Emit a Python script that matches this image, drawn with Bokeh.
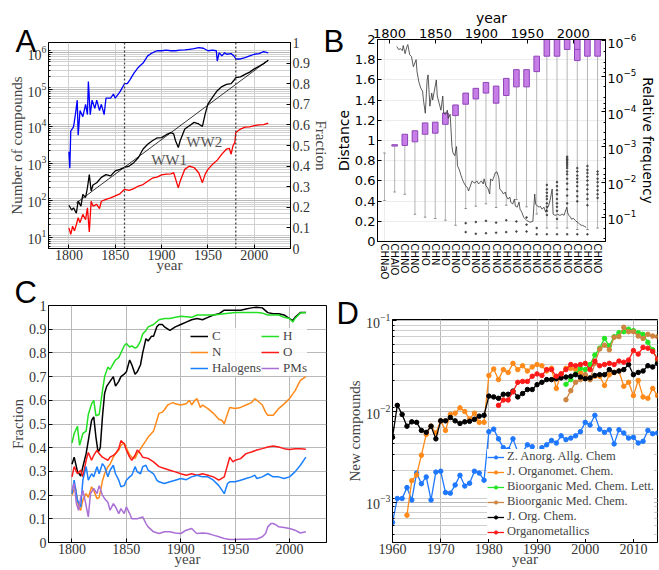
from bokeh.plotting import figure
from bokeh.models import (Range1d, LinearAxis, LogAxis, LogScale, LinearScale, Span, Legend, LegendItem,
                          NumeralTickFormatter, FixedTicker, SingleIntervalTicker, Grid, GridBox)
from bokeh.embed import file_html
from bokeh.resources import INLINE
from bokeh.core.properties import value

SERIF = "Liberation Serif"
SANS = "DejaVu Sans"
LETTER = "Liberation Sans"

# ---------------- Panel A data ----------------
a_black_years = [1800, 1803, 1805, 1808, 1810, 1813, 1815, 1818, 1820, 1822, 1824, 1826, 1830, 1835,
                 1840, 1845, 1850, 1855, 1860, 1865, 1870, 1875, 1880, 1885, 1890, 1895, 1900, 1905,
                 1910, 1913, 1915, 1918, 1920, 1925, 1930, 1935, 1940, 1944, 1947, 1950, 1955, 1960,
                 1965, 1970, 1975, 1978, 1980, 1985, 1990, 1995, 2000, 2005, 2010, 2015]
a_black_vals = [74, 55, 63, 45, 96, 70, 145, 120, 220, 500, 180, 260, 300, 420,
                500, 460, 630, 690, 780, 850, 1050, 1450, 2450, 3300, 4100, 4900, 5000, 6000,
                6800, 6300, 4100, 2700, 4100, 8500, 10500, 12900, 11700, 10000, 22000, 41000, 62000, 93000,
                120000, 138000, 145000, 178000, 210000, 219000, 257000, 295000, 363000, 427000, 501000, 617000]
a_red_years = [1800, 1802, 1804, 1806, 1808, 1810, 1812, 1815, 1818, 1820, 1822, 1824, 1826, 1830, 1833,
               1835, 1840, 1845, 1850, 1855, 1860, 1865, 1870, 1875, 1880, 1885, 1890, 1895, 1900, 1905,
               1910, 1913, 1918, 1920, 1925, 1930, 1935, 1940, 1944, 1947, 1950, 1955, 1960, 1965, 1970,
               1973, 1975, 1977, 1979, 1980, 1985, 1990, 1995, 2000, 2005, 2010, 2015]
a_red_vals = [18, 12, 20, 15, 22, 34, 25, 42, 30, 63, 14, 95, 70, 78, 60,
              95, 107, 117, 132, 151, 200, 186, 209, 245, 269, 331, 398, 427, 490, 513,
              525, 562, 219, 331, 692, 851, 776, 562, 302, 513, 692, 955, 1230, 1780, 2450,
              2570, 1780, 3020, 3720, 6900, 8500, 9550, 9770, 10500, 11000, 11200, 12300]
a_blue_years = [1800, 1801, 1802, 1805, 1807, 1809, 1810, 1812, 1815, 1818, 1820, 1821, 1823, 1825, 1828,
                1830, 1833, 1835, 1838, 1840, 1845, 1848, 1850, 1855, 1860, 1863, 1866, 1870, 1875, 1880,
                1885, 1890, 1895, 1900, 1905, 1910, 1915, 1920, 1925, 1930, 1935, 1940, 1945, 1950, 1955,
                1959, 1960, 1962, 1965, 1968, 1970, 1975, 1978, 1980, 1985, 1990, 1995, 2000, 2005, 2010, 2015]
a_blue_frac = [0.47, 0.39, 0.57, 0.59, 0.65, 0.72, 0.55, 0.67, 0.64, 0.70, 0.65, 0.81, 0.65, 0.72, 0.68,
               0.72, 0.67, 0.70, 0.65, 0.73, 0.73, 0.75, 0.73, 0.76, 0.80, 0.80, 0.82, 0.85, 0.88, 0.90,
               0.935, 0.95, 0.96, 0.96, 0.963, 0.96, 0.96, 0.963, 0.964, 0.967, 0.97, 0.975, 0.972, 0.96, 0.963,
               0.96, 0.91, 0.95, 0.935, 0.95, 0.943, 0.946, 0.935, 0.92, 0.92, 0.927, 0.935, 0.943, 0.946, 0.956, 0.95]
a_fit_years = [1808, 2015]
a_fit_vals = [85, 620000]
a_wars = ["WW1", "WW2"]
a_war_x = [1908, 1946]
a_war_y = [1250, 3700]
a_marks = [1860, 1980]

# ---------------- Panel B data ----------------
b_cats = ["CHNaO", "CHAlO", "CHNO", "CHNO", "CHO", "CHN", "CHO", "CHNO", "CHO", "CHNO", "CHNO",
          "CHNO", "CHNO", "CHNO", "CHNO", "CHNO", "CHNO", "CHNO", "CHNO", "CHNO", "CHNO", "CHNO"]
b_box_idx = [1, 2, 3, 4, 5, 6, 7, 8, 9, 10, 11, 12, 13, 14, 15, 16, 17, 18, 19, 20, 21]
b_box_low = [8.7e-4, 4.4e-4, 3.5e-4, 2.1e-4, 2.0e-4, 1.1e-4, 6.5e-5, 3.0e-5, 2.2e-5, 1.5e-5, 1.9e-5,
             1.15e-5, 6.5e-6, 6.5e-6, 2.7e-6, 3e-7, 3e-7, 3e-7, 3e-7, 3e-7, 3e-7]
b_box_high = [9.5e-4, 9.1e-4, 7.2e-4, 4.4e-4, 4.1e-4, 2.3e-4, 1.3e-4, 6.2e-5, 4.4e-5, 3.0e-5, 5.8e-5,
              3.5e-5, 2.0e-5, 2.0e-5, 7.4e-6, 2.7e-6, 2.7e-6, 1.74e-6, 3.6e-6, 2.7e-6, 2.7e-6]
b_median_idx = [19]
b_median_val = [1.74e-6]
b_whisk_top = [1.5e-3, 9.5e-4, 9.1e-4, 7.2e-4, 4.4e-4, 4.1e-4, 2.3e-4, 1.3e-4, 6.2e-5, 4.4e-5, 3.0e-5, 5.8e-5,
               3.5e-5, 2.0e-5, 2.0e-5, 7.4e-6, 2.7e-6, 2.7e-6, 1.74e-6, 3.6e-6, 2.7e-6, 2.7e-6]
b_whisk_end = [3.3e-2, 1.9e-2, 2.2e-2, 8.1e-2, 9.8e-2, 0.107, 0.12, 0.166, 5.6e-2, 4.8e-2, 4.1e-2, 5.2e-2,
               4.5e-2, 3.1e-2, 5.0e-2, 8.0e-2, 0.2, 0.2, 0.2, 0.22, 0.22, 0.2]
b_flier_idx = [8, 8, 9, 9, 10, 10, 11, 11, 12, 12, 13, 13, 14, 14, 14, 15, 15,
               16, 16, 16, 16, 16, 16, 16, 16, 16, 16,
               17, 17, 17, 17, 17, 17, 17, 17, 17, 17,
               18, 18, 18, 18, 18, 18, 18, 18, 18, 18, 18, 18, 18, 18, 18, 18,
               19, 19, 19, 19, 19, 19, 19, 19, 19, 19,
               20, 20, 20, 20, 20, 20, 20, 20, 20, 20, 20,
               21, 21, 21, 21, 21, 21, 21, 21]
b_flier_val = [0.145, 0.26, 0.135, 0.29, 0.125, 0.28, 0.14, 0.27, 0.12, 0.26, 0.13, 0.25, 0.1, 0.16, 0.25, 0.2, 0.3,
               0.012, 0.016, 0.02, 0.025, 0.03, 0.04, 0.05, 0.065, 0.085, 0.3,
               0.01, 0.013, 0.017, 0.022, 0.03, 0.04, 0.05, 0.065, 0.11, 0.3,
               0.0019, 0.0021, 0.0023, 0.0025, 0.0028, 0.0031, 0.0035, 0.004, 0.005, 0.006, 0.008, 0.011, 0.016, 0.024, 0.04, 0.3,
               0.004, 0.005, 0.0065, 0.008, 0.01, 0.013, 0.018, 0.025, 0.035, 0.3,
               0.0035, 0.0045, 0.0055, 0.007, 0.009, 0.012, 0.016, 0.022, 0.03, 0.045, 0.3,
               0.005, 0.006, 0.008, 0.01, 0.013, 0.017, 0.022, 0.028]
b_line_years = [1808, 1810, 1812, 1814, 1815, 1817, 1819, 1820, 1822, 1824, 1826, 1829, 1830, 1832, 1834,
                1836, 1837, 1839, 1841, 1842, 1844, 1846, 1847, 1849, 1851, 1852, 1854, 1856, 1858, 1859,
                1861, 1863, 1864, 1866, 1868, 1869, 1871, 1873, 1874, 1876, 1878, 1880, 1881, 1883, 1885,
                1886, 1888, 1890, 1892, 1893, 1895, 1897, 1898, 1900, 1902, 1903, 1905, 1907, 1909, 1910,
                1912, 1914, 1915, 1917, 1919, 1920, 1922, 1924, 1926, 1927, 1929, 1931, 1932, 1934, 1936,
                1937, 1939, 1941, 1942, 1944, 1946, 1948, 1949, 1951, 1953, 1956, 1958, 1959, 1961, 1963,
                1964, 1966, 1968, 1970, 1971, 1973, 1975, 1977, 1978, 1980, 1981, 1983, 1985, 1986, 1988,
                1990, 1991, 1993, 1994, 1995, 1997, 1998, 2000, 2002, 2003, 2005, 2007, 2009, 2010, 2012, 2014]
b_line_dist = [1.93, 1.90, 1.91, 1.89, 1.94, 1.86, 1.93, 1.95, 1.85, 1.83, 1.73, 1.80, 1.68, 1.58, 1.52,
               1.49, 1.40, 1.27, 1.60, 1.65, 1.34, 1.47, 1.40, 1.50, 1.60, 1.44, 1.37, 1.30, 1.44, 1.27,
               1.26, 1.30, 1.22, 1.26, 0.94, 0.88, 0.85, 0.94, 0.75, 0.71, 0.65, 0.60, 0.58, 0.55, 0.53,
               0.50, 0.55, 0.60, 0.58, 0.58, 0.60, 0.57, 0.58, 0.60, 0.57, 0.62, 0.55, 0.53, 0.47, 0.62,
               0.60, 0.65, 0.68, 0.69, 0.63, 0.52, 0.50, 0.47, 0.49, 0.45, 0.42, 0.44, 0.39, 0.37, 0.42,
               0.35, 0.34, 0.39, 0.32, 0.29, 0.24, 0.22, 0.21, 0.20, 0.19, 0.20, 0.47, 0.37, 0.35, 0.34,
               0.35, 0.32, 0.34, 0.29, 0.32, 0.35, 0.42, 0.52, 0.27, 0.26, 0.26, 0.27, 0.26, 0.26, 0.27,
               0.26, 0.29, 0.34, 0.28, 0.26, 0.24, 0.22, 0.23, 0.21, 0.20, 0.19, 0.17, 0.16, 0.16, 0.15, 0.14]

# ---------------- Panel C data ----------------
c_years_c = [1800, 1802, 1805, 1808, 1810, 1813, 1815, 1818, 1820, 1822, 1824, 1826, 1828, 1830, 1832,
             1835, 1838, 1840, 1843, 1845, 1848, 1850, 1853, 1855, 1858, 1860, 1863, 1865, 1868, 1870,
             1873, 1875, 1878, 1880, 1883, 1885, 1890, 1895, 1900, 1905, 1910, 1915, 1920, 1925, 1930,
             1935, 1940, 1945, 1950, 1955, 1960, 1965, 1970, 1975, 1980, 1985, 1990, 1995, 2000, 2003,
             2005, 2010, 2015]
c_C = [0.33, 0.36, 0.30, 0.28, 0.32, 0.375, 0.43, 0.515, 0.53, 0.445, 0.38, 0.40, 0.53, 0.63, 0.66,
       0.68, 0.70, 0.66, 0.68, 0.70, 0.71, 0.72, 0.77, 0.75, 0.71, 0.72, 0.75, 0.80, 0.86, 0.85,
       0.87, 0.87, 0.91, 0.92, 0.92, 0.91, 0.895, 0.91, 0.92, 0.93, 0.94, 0.945, 0.94, 0.95, 0.96,
       0.965, 0.98, 0.98, 0.98, 0.98, 0.985, 0.99, 0.993, 0.99, 0.97, 0.965, 0.965, 0.96, 0.945, 0.937,
       0.95, 0.97, 0.97]
c_years_h = [1800, 1802, 1805, 1807, 1810, 1813, 1815, 1818, 1820, 1822, 1825, 1828, 1830, 1833, 1835,
             1838, 1840, 1843, 1845, 1848, 1850, 1853, 1855, 1858, 1860, 1863, 1865, 1868, 1870, 1875,
             1880, 1885, 1890, 1895, 1900, 1910, 1915, 1920, 1930, 1940, 1950, 1960, 1970, 1975, 1980,
             1990, 1995, 2000, 2003, 2005, 2010, 2015]
c_H = [0.42, 0.46, 0.49, 0.41, 0.46, 0.47, 0.54, 0.585, 0.60, 0.535, 0.54, 0.64, 0.70, 0.74, 0.73,
       0.755, 0.77, 0.78, 0.80, 0.83, 0.84, 0.825, 0.83, 0.82, 0.825, 0.85, 0.88, 0.895, 0.91, 0.92,
       0.94, 0.945, 0.945, 0.95, 0.955, 0.95, 0.96, 0.96, 0.96, 0.965, 0.97, 0.97, 0.97, 0.968, 0.96,
       0.96, 0.95, 0.945, 0.93, 0.945, 0.968, 0.97]
c_years_n = [1800, 1803, 1806, 1808, 1810, 1813, 1815, 1818, 1820, 1823, 1825, 1828, 1830, 1833, 1835,
             1838, 1840, 1843, 1845, 1848, 1850, 1853, 1855, 1858, 1860, 1863, 1865, 1868, 1870, 1873,
             1875, 1878, 1880, 1883, 1885, 1888, 1890, 1893, 1895, 1900, 1905, 1908, 1910, 1913, 1915,
             1918, 1920, 1925, 1930, 1935, 1938, 1940, 1942, 1945, 1950, 1955, 1960, 1965, 1968, 1970,
             1975, 1978, 1980, 1985, 1990, 1995, 2000, 2005, 2010, 2015]
c_N = [0.20, 0.235, 0.15, 0.136, 0.18, 0.206, 0.19, 0.235, 0.22, 0.185, 0.19, 0.26, 0.29, 0.32, 0.33,
       0.36, 0.375, 0.39, 0.41, 0.42, 0.40, 0.37, 0.36, 0.355, 0.375, 0.395, 0.41, 0.43, 0.445, 0.46,
       0.47, 0.515, 0.545, 0.55, 0.56, 0.58, 0.585, 0.59, 0.585, 0.58, 0.585, 0.60, 0.58, 0.60, 0.607,
       0.57, 0.58, 0.565, 0.545, 0.52, 0.515, 0.50, 0.53, 0.57, 0.565, 0.57, 0.58, 0.59, 0.607, 0.60,
       0.58, 0.55, 0.537, 0.537, 0.565, 0.585, 0.607, 0.64, 0.684, 0.70]
c_years_o = [1800, 1802, 1805, 1808, 1810, 1813, 1815, 1818, 1820, 1823, 1825, 1828, 1830, 1833, 1835,
             1838, 1840, 1843, 1845, 1848, 1850, 1853, 1855, 1858, 1860, 1863, 1865, 1870, 1875, 1880,
             1885, 1890, 1895, 1900, 1905, 1910, 1915, 1920, 1925, 1930, 1935, 1940, 1943, 1945, 1948,
             1950, 1955, 1960, 1965, 1970, 1975, 1980, 1985, 1990, 1995, 2000, 2005, 2010, 2015]
c_O = [0.277, 0.32, 0.29, 0.305, 0.277, 0.347, 0.38, 0.347, 0.368, 0.39, 0.375, 0.36, 0.355, 0.347, 0.36,
       0.368, 0.375, 0.396, 0.43, 0.417, 0.39, 0.36, 0.347, 0.368, 0.39, 0.375, 0.36, 0.355, 0.34, 0.32,
       0.312, 0.305, 0.298, 0.29, 0.284, 0.29, 0.284, 0.29, 0.284, 0.277, 0.263, 0.277, 0.326, 0.36, 0.34,
       0.347, 0.354, 0.375, 0.382, 0.39, 0.396, 0.403, 0.407, 0.403, 0.396, 0.392, 0.396, 0.396, 0.393]
c_years_x = [1800, 1802, 1805, 1808, 1810, 1813, 1815, 1818, 1820, 1823, 1825, 1828, 1830, 1833, 1835,
             1838, 1840, 1843, 1845, 1848, 1850, 1853, 1855, 1858, 1860, 1863, 1865, 1868, 1870, 1875,
             1878, 1880, 1885, 1890, 1895, 1900, 1905, 1910, 1915, 1920, 1925, 1930, 1935, 1938, 1940,
             1943, 1945, 1950, 1955, 1960, 1965, 1968, 1970, 1975, 1980, 1985, 1990, 1995, 2000, 2005,
             2010, 2015]
c_X = [0.206, 0.263, 0.178, 0.15, 0.263, 0.32, 0.263, 0.29, 0.277, 0.32, 0.29, 0.333, 0.32, 0.277, 0.305,
       0.326, 0.29, 0.263, 0.235, 0.24, 0.263, 0.277, 0.284, 0.32, 0.298, 0.29, 0.32, 0.326, 0.305, 0.29,
       0.263, 0.256, 0.249, 0.256, 0.263, 0.27, 0.265, 0.277, 0.284, 0.277, 0.277, 0.263, 0.24, 0.22, 0.206,
       0.249, 0.256, 0.256, 0.263, 0.27, 0.277, 0.284, 0.27, 0.277, 0.29, 0.277, 0.277, 0.27, 0.277, 0.298,
       0.326, 0.36]
c_years_p = [1800, 1802, 1804, 1806, 1808, 1810, 1812, 1815, 1817, 1820, 1823, 1825, 1828, 1830, 1833,
             1835, 1838, 1840, 1843, 1845, 1848, 1850, 1853, 1855, 1860, 1865, 1868, 1870, 1875, 1880,
             1885, 1890, 1895, 1900, 1905, 1910, 1913, 1915, 1920, 1925, 1930, 1935, 1940, 1945, 1950,
             1955, 1960, 1965, 1970, 1975, 1978, 1980, 1983, 1985, 1988, 1990, 1995, 2000, 2005, 2010, 2015]
c_P = [0.22, 0.25, 0.165, 0.136, 0.19, 0.22, 0.178, 0.108, 0.206, 0.228, 0.206, 0.24, 0.2, 0.185, 0.17,
       0.136, 0.164, 0.15, 0.122, 0.143, 0.122, 0.15, 0.122, 0.10, 0.10, 0.108, 0.08, 0.066, 0.045, 0.038,
       0.045, 0.045, 0.04, 0.038, 0.052, 0.059, 0.045, 0.038, 0.04, 0.038, 0.031, 0.024, 0.017, 0.013, 0.013,
       0.014, 0.014, 0.015, 0.015, 0.024, 0.038, 0.066, 0.08, 0.08, 0.073, 0.066, 0.063, 0.059, 0.052, 0.04, 0.045]
c_names = ["C", "H", "N", "O", "Halogens", "PMs"]

# ---------------- Panel D data ----------------
d_years = list(range(1960, 2016))
d_zaac = [6.0e-4, 1.1e-3, 1.1e-3, 1.45e-3, 1.06e-3, 2.1e-3, 1.6e-3, 1.9e-3, 1.06e-3, 2.15e-3,
          2.2e-3, 1.28e-3, 1.26e-3, 1.55e-3, 1.98e-3, 1.51e-3, 1.62e-3, 2.2e-3, 2.1e-3, 1.75e-3,
          6.0e-3, 6.4e-3, 5.0e-3, 4.0e-3, 3.8e-3, 5.0e-3, 3.6e-3, 3.6e-3, 4.3e-3, 4.1e-3,
          3.1e-3, 4.0e-3, 4.3e-3, 4.8e-3, 4.5e-3, 5.4e-3, 4.9e-3, 5.1e-3, 5.4e-3, 6.0e-3,
          7.6e-3, 7.1e-3, 9.1e-3, 6.4e-3, 5.9e-3, 6.3e-3, 4.4e-3, 6.3e-3, 5.8e-3, 5.1e-3,
          5.2e-3, 4.5e-3, 4.7e-3, 6.2e-3, 5.7e-3, 5.8e-3]
d_jorganomet_years = list(range(1963, 2016))
d_jorganomet = [7.2e-4, 1.73e-3, 2.0e-3, 3.3e-3, 5.6e-3, 6.9e-3, 5.8e-3,
                7.9e-3, 6.2e-3, 9.3e-3, 9.6e-3, 1.1e-2, 1.0e-2, 8.3e-3, 9.6e-3, 7.6e-3, 7.6e-3,
                2.5e-2, 2.95e-2, 2.25e-2, 2.9e-2, 2.7e-2, 3.4e-2, 2.9e-2, 3.2e-2, 2.8e-2, 3.1e-2,
                3.3e-2, 3.2e-2, 2.8e-2, 3.0e-2, 1.8e-2, 2.6e-2, 3.0e-2, 3.0e-2, 2.9e-2, 2.7e-2,
                2.5e-2, 2.25e-2, 2.45e-2, 2.45e-2, 1.94e-2, 2.55e-2, 2.7e-2, 2.8e-2, 1.9e-2, 2.1e-2,
                1.5e-2, 2.2e-2, 1.45e-2, 1.4e-2, 1.8e-2, 1.5e-2]
d_bio_years = list(range(1996, 2016))
d_bmcl = [2.0e-2, 2.25e-2, 2.6e-2, 3.0e-2, 2.9e-2, 3.3e-2, 4.2e-2, 5.0e-2, 6.4e-2, 5.3e-2,
          6.7e-2, 7.4e-2, 7.6e-2, 8.1e-2, 7.8e-2, 7.4e-2, 7.1e-2, 5.8e-2, 4.8e-2, 3.7e-2]
d_bmc = [1.35e-2, 1.7e-2, 2.1e-2, 2.25e-2, 2.55e-2, 2.25e-2, 3.4e-2, 4.9e-2, 5.4e-2, 4.8e-2,
         6.6e-2, 6.7e-2, 8.5e-2, 7.6e-2, 7.6e-2, 6.8e-2, 6.4e-2, 7.1e-2, 6.8e-2, 6.7e-2]
d_joc = [5.2e-3, 1.17e-2, 9.3e-3, 6.9e-3, 7.7e-3, 7.6e-3, 6.2e-3, 5.9e-3, 6.9e-3, 5.0e-3,
         7.9e-3, 7.9e-3, 8.6e-3, 7.9e-3, 7.4e-3, 7.7e-3, 7.8e-3, 8.2e-3, 8.9e-3, 9.1e-3,
         1.48e-2, 1.45e-2, 1.4e-2, 1.55e-2, 1.55e-2, 1.68e-2, 1.45e-2, 1.58e-2, 1.75e-2, 1.75e-2,
         1.98e-2, 2.1e-2, 2.25e-2, 2.25e-2, 2.3e-2, 2.35e-2, 2.4e-2, 2.45e-2, 2.55e-2, 2.4e-2,
         2.3e-2, 2.35e-2, 2.5e-2, 2.55e-2, 2.55e-2, 2.9e-2, 2.7e-2, 2.8e-2, 2.9e-2, 3.3e-2,
         2.55e-2, 2.7e-2, 2.8e-2, 3.2e-2, 3.1e-2, 3.4e-2]
d_orgmet_years = list(range(1982, 2016))
d_orgmet = [1.17e-2, 1.34e-2, 1.34e-2, 1.65e-2, 2.1e-2, 2.15e-2, 2.15e-2, 2.45e-2,
            2.6e-2, 2.5e-2, 2.9e-2, 2.9e-2, 2.45e-2, 2.6e-2, 2.9e-2, 3.3e-2, 3.2e-2, 3.3e-2,
            3.4e-2, 2.9e-2, 3.6e-2, 3.2e-2, 3.3e-2, 3.4e-2, 3.3e-2, 3.6e-2, 3.5e-2, 3.7e-2,
            4.7e-2, 4.3e-2, 5.1e-2, 5.0e-2, 4.6e-2, 3.8e-2]
d_names = ["Z. Anorg. Allg. Chem", "J. Organomet. Chem.", "Bioorganic Med. Chem. Lett.",
           "Bioorganic Med. Chem.", "J. Org. Chem.", "Organometallics"]

# panel letters (page positions of the letters, in px)
letters = ["A", "B", "C", "D"]
letter_x = [15, 323, 14, 336]
letter_y = [41, 41, 292, 313]

W_LEFT, W_RIGHT = 332, 327
H_TOP, H_BOTTOM = 282, 288

FIG = dict(output_backend="svg", toolbar_location=None, frame_align=False)


def style_axis(ax, font=SERIF, size="14px", label_size="15px", color="#333333"):
    ax.major_label_text_font = font
    ax.major_label_text_font_size = size
    ax.major_label_text_color = color
    ax.axis_label_text_font = font
    ax.axis_label_text_font_size = label_size
    ax.axis_label_text_font_style = "normal"
    ax.axis_label_text_color = "#444444"
    ax.major_tick_in = 4
    ax.major_tick_out = 0
    ax.minor_tick_in = 2
    ax.minor_tick_out = 0
    ax.major_label_standoff = 2
    ax.axis_label_standoff = 0
    ax.axis_line_color = "black"


def tight_x(ax):
    ax.major_label_standoff = 1
    ax.axis_label_standoff = -6


# ================= Panel A =================
pA = figure(width=W_LEFT, height=H_TOP, x_range=Range1d(1778, 2039), y_range=Range1d(5.0, 1.87e6),
            y_axis_type="log", min_border_left=48, min_border_right=39, min_border_top=42,
            min_border_bottom=34, **FIG)
pA.extra_y_ranges = {"frac": Range1d(0, 1)}
pA.extra_y_scales = {"frac": LinearScale()}
pA.outline_line_color = "black"
pA.xaxis.ticker = SingleIntervalTicker(interval=50, num_minor_ticks=0)
pA.xaxis.axis_label = "year"
pA.yaxis.axis_label = "Number of compounds"
pA.yaxis.ticker.num_minor_ticks = 9
style_axis(pA.xaxis[0])
tight_x(pA.xaxis[0])
style_axis(pA.yaxis[0])
pA.xgrid.grid_line_color = "#d0d0d0"
pA.ygrid.grid_line_color = "#b8b8b8"
pA.ygrid.minor_grid_line_color = "#d0d0d0"
axA_r = LinearAxis(y_range_name="frac", axis_label="Fraction",
                   ticker=SingleIntervalTicker(interval=0.1, num_minor_ticks=0),
                   formatter=NumeralTickFormatter(format="0.[0]"))
style_axis(axA_r)
pA.add_layout(axA_r, "right")
pA.line(a_fit_years, a_fit_vals, color="black", line_width=0.8)
pA.line(a_black_years, a_black_vals, color="black", line_width=1.3)
pA.line(a_red_years, a_red_vals, color="#ff0000", line_width=1.3)
pA.line(a_blue_years, a_blue_frac, color="#0000ff", line_width=1.3, y_range_name="frac")
for m in a_marks:
    pA.add_layout(Span(location=m, dimension="height", line_color="#444444", line_dash="2 2", line_width=1.3))
pA.text(x=a_war_x, y=a_war_y, text=a_wars, text_font=value(SERIF), text_font_size="15px",
        text_color="#555555", text_align="center", text_baseline="middle")

# ================= Panel B =================
pB = figure(width=W_RIGHT, height=H_TOP, x_range=Range1d(-0.69, 21.78), y_range=Range1d(0, 2),
            min_border_left=42, min_border_right=42, min_border_top=39, min_border_bottom=39, **FIG)
pB.extra_x_ranges = {"year": Range1d(1787, 2035)}
pB.extra_y_ranges = {"freq": Range1d(0.48, 9.1e-7)}
pB.extra_y_scales = {"freq": LogScale()}
pB.outline_line_color = "black"
axB_bottom = pB.below[0]
axB_bottom.ticker = FixedTicker(ticks=list(range(len(b_cats))))
axB_bottom.major_label_overrides = {i: c for i, c in enumerate(b_cats)}
axB_bottom.major_label_orientation = "vertical"
style_axis(axB_bottom, font=SANS, size="10px", color="black")
axB_bottom.major_tick_in = 0
axB_bottom.major_label_standoff = 2
axB_left = pB.left[0]
axB_left.ticker = SingleIntervalTicker(interval=0.2, num_minor_ticks=0)
axB_left.formatter = NumeralTickFormatter(format="0.[0]")
axB_left.axis_label = "Distance"
style_axis(axB_left, font=SANS, size="13px", label_size="14px", color="black")
axB_left.axis_label_text_color = "black"
axB_top = LinearAxis(x_range_name="year", axis_label="year",
                     ticker=SingleIntervalTicker(interval=50, num_minor_ticks=0))
style_axis(axB_top, font=SANS, size="13px", label_size="14px", color="black")
axB_top.axis_label_text_color = "black"
pB.add_layout(axB_top, "above")
axB_right = LogAxis(y_range_name="freq", axis_label="Relative frequency")
style_axis(axB_right, font=SANS, size="12.5px", label_size="13.5px", color="black")
axB_right.axis_label_text_color = "black"
axB_right.axis_label_standoff = 1
pB.add_layout(axB_right, "right")
pB.xgrid.visible = False
pB.ygrid.grid_line_color = "#ececec"
pB.add_layout(Grid(dimension=0, axis=axB_top, grid_line_color="#ececec"))
pB.add_layout(Grid(dimension=1, axis=axB_right, grid_line_color="#f2f2f2"))

b_all_idx = list(range(len(b_cats)))
pB.segment(x0=b_all_idx, y0=b_whisk_top, x1=b_all_idx, y1=b_whisk_end, y_range_name="freq",
           line_color="#b5b5b5", line_width=1)
pB.segment(x0=[i - 0.12 for i in b_all_idx], y0=b_whisk_end, x1=[i + 0.12 for i in b_all_idx],
           y1=b_whisk_end, y_range_name="freq", line_color="#888888", line_width=1)
pB.segment(x0=[-0.12], y0=b_whisk_top[:1], x1=[0.12], y1=b_whisk_top[:1], y_range_name="freq",
           line_color="#888888", line_width=1)
pB.vbar(x=b_box_idx, width=0.55, top=b_box_high, bottom=b_box_low, y_range_name="freq",
        fill_color="#c77de6", line_color="#8e44b8", line_width=1)
pB.segment(x0=[i - 0.27 for i in b_median_idx], y0=b_median_val, x1=[i + 0.27 for i in b_median_idx],
           y1=b_median_val, y_range_name="freq", line_color="#8e44b8", line_width=1)
pB.scatter(x=b_flier_idx, y=b_flier_val, y_range_name="freq", size=1.6, color="#444444", marker="circle")
pB.line(b_line_years, b_line_dist, x_range_name="year", color="#333333", line_width=0.8)

# ================= Panel C =================
pC = figure(width=W_LEFT, height=H_BOTTOM, x_range=Range1d(1778.4, 2034), y_range=Range1d(0, 1),
            min_border_left=48, min_border_right=6, min_border_top=23, min_border_bottom=28, **FIG)
pC.outline_line_color = "black"
pC.xaxis.ticker = SingleIntervalTicker(interval=50, num_minor_ticks=0)
pC.yaxis.ticker = SingleIntervalTicker(interval=0.1, num_minor_ticks=0)
pC.yaxis.formatter = NumeralTickFormatter(format="0.[0]")
pC.xaxis.axis_label = "year"
pC.yaxis.axis_label = "Fraction"
style_axis(pC.xaxis[0])
tight_x(pC.xaxis[0])
style_axis(pC.yaxis[0])
pC.grid.grid_line_color = "#b8b8b8"
c_series = [(c_years_c, c_C, "black"), (c_years_h, c_H, "#22e022"), (c_years_n, c_N, "#ff8a1a"),
            (c_years_o, c_O, "#ff1a1a"), (c_years_x, c_X, "#1a7fff"), (c_years_p, c_P, "#aa6fd6")]
c_rend = {}
for (xs, ys, col), name in zip(c_series, c_names):
    c_rend[name] = pC.line(xs, ys, color=col, line_width=1.5)
# the legend fills column by column: order so rows read C H / N O / Halogens PMs
c_legend_order = ["C", "N", "Halogens", "H", "O", "PMs"]
legC = Legend(items=[LegendItem(label=n, renderers=[c_rend[n]]) for n in c_legend_order],
              ncols=2, location=(142, 166), background_fill_alpha=0.85,
              border_line_color=None, label_text_font=SERIF, label_text_font_size="13px",
              glyph_width=18, glyph_height=10, spacing=-2, padding=2, margin=0,
              label_standoff=4, label_height=10)
pC.add_layout(legC)

# ================= Panel D =================
pD = figure(width=W_RIGHT, height=H_BOTTOM, x_range=Range1d(1960, 2015), y_range=Range1d(3.6e-4, 0.1035),
            y_axis_type="log", min_border_left=60, min_border_right=2, min_border_top=37,
            min_border_bottom=28, **FIG)
pD.outline_line_color = "black"
pD.xaxis.ticker = SingleIntervalTicker(interval=10, num_minor_ticks=0)
pD.yaxis.ticker.num_minor_ticks = 9
pD.xaxis.axis_label = "year"
pD.yaxis.axis_label = "New compounds"
style_axis(pD.xaxis[0])
tight_x(pD.xaxis[0])
style_axis(pD.yaxis[0])
pD.grid.grid_line_color = "#b8b8b8"
pD.ygrid.minor_grid_line_color = "#cfcfcf"
d_series = [(d_years, d_zaac, "#1e78ff"), (d_jorganomet_years, d_jorganomet, "#ff8a1a"),
            (d_bio_years, d_bmcl, "#22e622"), (d_bio_years, d_bmc, "#cd8540"),
            (d_years, d_joc, "black"), (d_orgmet_years, d_orgmet, "#ff1a1a")]
d_items = []
for (xs, ys, col), name in zip(d_series, d_names):
    r1 = pD.line(xs, ys, color=col, line_width=1.3)
    r2 = pD.scatter(xs, ys, color=col, size=4.5, marker="circle")
    d_items.append(LegendItem(label=name, renderers=[r1, r2]))
legD = Legend(items=d_items, location="bottom_right", background_fill_alpha=1.0,
              border_line_color=None, label_text_font=SERIF, label_text_font_size="12.5px",
              glyph_width=17, glyph_height=8, spacing=-3, padding=2, margin=3,
              label_standoff=3, label_height=8)
pD.add_layout(legD)

# ================= panel letters (transparent overlay over the whole grid) =================
pL = figure(width=W_LEFT + W_RIGHT, height=H_TOP + H_BOTTOM,
            x_range=Range1d(0, W_LEFT + W_RIGHT), y_range=Range1d(H_TOP + H_BOTTOM, 0),
            x_axis_location=None, y_axis_location=None, min_border=0, **FIG)
pL.grid.visible = False
pL.outline_line_color = None
pL.background_fill_alpha = 0
pL.border_fill_alpha = 0
pL.text(x=letter_x, y=letter_y, text=letters, text_font=value(LETTER), text_font_size="31px",
        text_color="black", text_align="left", text_baseline="alphabetic")

layout = GridBox(children=[(pA, 0, 0), (pB, 0, 1), (pC, 1, 0), (pD, 1, 1), (pL, 0, 0, 2, 2)], spacing=0)
open("out.html", "w").write(file_html(layout, INLINE))
